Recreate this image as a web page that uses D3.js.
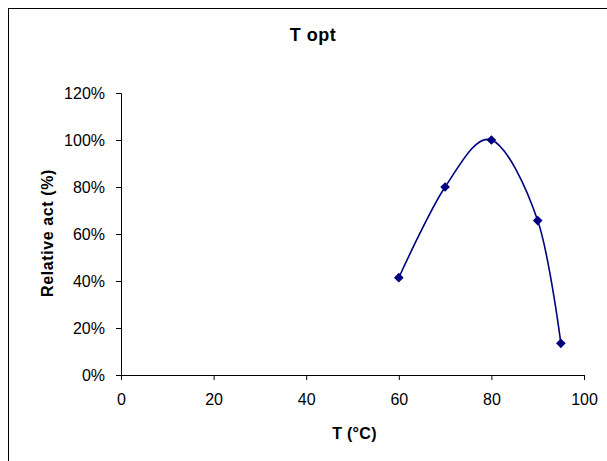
<!DOCTYPE html>
<html>
<head>
<meta charset="utf-8">
<script src="https://cdn.jsdelivr.net/npm/d3@7"></script>
<style>
body { margin: 0; background: #fff; }
text { font-family: "Liberation Sans", Arial, sans-serif; }
</style>
</head>
<body>
<svg width="607" height="461"></svg>
<script>
var temps = [60, 70, 80, 90, 95];
var activity = [0.414, 0.80, 1.00, 0.657, 0.135];
var xTicks = [0, 20, 40, 60, 80, 100];
var yTicks = [0, 0.2, 0.4, 0.6, 0.8, 1.0, 1.2];

var svg = d3.select('svg');

// chart area border (runs off the right/bottom edge)
svg.append('rect')
    .attr('x', 8.5)
    .attr('y', 8.5)
    .attr('width', 640)
    .attr('height', 500)
    .style('fill', 'white')
    .style('stroke', 'black')
    .style('stroke-width', 1);

var x = d3.scaleLinear().domain([0, 100]).range([121, 584]);
var y = d3.scaleLinear().domain([0, 1.2]).range([375, 93]);

var xAxis = svg.append('g')
    .attr('transform', 'translate(0,375)')
    .call(d3.axisBottom(x).tickValues(xTicks).tickSize(5).tickPadding(14));

var yAxis = svg.append('g')
    .attr('transform', 'translate(121,0)')
    .call(d3.axisLeft(y).tickValues(yTicks).tickSize(5).tickPadding(11)
        .tickFormat(d3.format('.0%')));

[xAxis, yAxis].forEach(function(a) {
    a.select('.domain').style('stroke', 'black');
    a.selectAll('.tick line').style('stroke', 'black');
    a.selectAll('.tick text')
        .style('font-size', '16px')
        .style('fill', 'black')
        .style('font-family', '"Liberation Sans", Arial, sans-serif');
});
yAxis.selectAll('.tick text').attr('dy', '0.34em');

var pts = temps.map(function(t, i) { return [t, activity[i]]; });

var line = d3.line()
    .x(function(d) { return x(d[0]); })
    .y(function(d) { return y(d[1]); })
    .curve(d3.curveCatmullRom.alpha(0));

svg.append('path')
    .datum(pts)
    .attr('d', line)
    .style('fill', 'none')
    .style('stroke', '#000080')
    .style('stroke-width', 1.6);

svg.selectAll('.marker')
    .data(pts)
    .enter()
    .append('path')
    .attr('class', 'marker')
    .attr('d', d3.symbol().type(d3.symbolDiamond2).size(60))
    .attr('transform', function(d) { return 'translate(' + x(d[0]) + ',' + y(d[1]) + ')'; })
    .style('fill', '#000080');

svg.append('text')
    .attr('x', 313)
    .attr('y', 41)
    .attr('text-anchor', 'middle')
    .style('font-size', '18px')
    .style('font-weight', 'bold')
    .style('letter-spacing', '0.5px')
    .text('T opt');

svg.append('text')
    .attr('x', 354.5)
    .attr('y', 439)
    .attr('text-anchor', 'middle')
    .style('font-size', '16px')
    .style('font-weight', 'bold')
    .style('letter-spacing', '0.3px')
    .text('T (°C)');

svg.append('text')
    .attr('transform', 'translate(53,233) rotate(-90)')
    .attr('text-anchor', 'middle')
    .style('font-size', '16px')
    .style('font-weight', 'bold')
    .style('letter-spacing', '0.6px')
    .text('Relative act (%)');
</script>
</body>
</html>
